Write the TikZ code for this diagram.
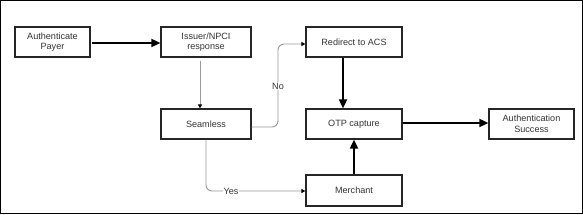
\documentclass[tikz,border=0pt]{standalone}
\usepackage{fontspec}
\setmainfont{Liberation Sans}
\usetikzlibrary{arrows.meta}
\begin{document}
\begin{tikzpicture}[x=1pt,y=-1pt,
  box/.style={draw=black!85,line width=1.2pt,minimum width=#1,minimum height=30pt,inner sep=1pt,align=center,font=\fontsize{9.1}{10.6}\selectfont,text=black!80},
  box/.default=90pt,
  thick arrow/.style={line width=1.7pt,-{Triangle[length=9pt,width=8pt]}},
  thin arrow/.style={draw=black!40,line width=0.9pt,-{Triangle[length=4pt,width=4pt,fill=black,color=black]},rounded corners=6pt},
  lbl/.style={fill=white,inner sep=1pt,font=\fontsize{9.1}{10.6}\selectfont,text=black!80}]
\draw[line width=1.2pt] (0.6,0.6) rectangle (582.4,213.4);
\node[box=75pt] (auth) at (52.5,42) {Authenticate\\Payer};
\node[box=90pt] (iss) at (206,42) {Issuer/NPCI\\response};
\node[box=90pt] (seam) at (206,124) {Seamless};
\node[box=96pt] (acs) at (354,42) {Redirect to ACS};
\node[box=96pt] (otp) at (354,124) {OTP capture};
\node[box=85pt] (succ) at (531.5,124) {Authentication\\Success};
\node[box=96pt,minimum height=31pt] (merch) at (354,190.5) {Merchant};
\draw[thick arrow] (auth.east) ++(1.5,1) coordinate (a1) -- (a1 -| iss.west);
\draw[thin arrow] (iss.south -| 200,0) ++(0,3) coordinate (i1) -- (i1 |- seam.north);
\draw[thin arrow] (seam.east) ++(0,3) coordinate (s1) -- (278,127) -- (278,44) -- (acs.west |- 0,44);
\node[lbl] (no) at (278,86) {No};
\draw[thin arrow] (seam.south -| 206,0) coordinate (s2) -- (206,191) -- (merch.west |- 0,191);
\node[lbl] (yes) at (231,191) {Yes};
\draw[thick arrow] (acs.south -| 343,0) coordinate (r1) -- (r1 |- otp.north);
\draw[thick arrow] (merch.north -| 354,0) coordinate (m1) -- (m1 |- otp.south);
\draw[thick arrow] (otp.east) ++(0,-1) coordinate (o1) -- (o1 -| succ.west);
\end{tikzpicture}
\end{document}
